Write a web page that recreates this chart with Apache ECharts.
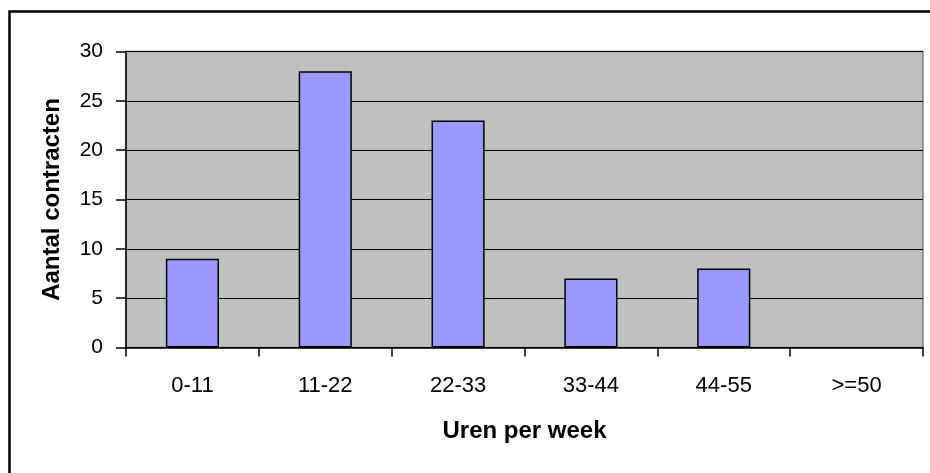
<!DOCTYPE html>
<html>
<head>
<meta charset="utf-8">
<script src="https://cdn.jsdelivr.net/npm/echarts@6/dist/echarts.min.js"></script>
<style>
html,body{margin:0;padding:0;background:#fff;}
#chart{width:930px;height:473px;}
</style>
</head>
<body>
<div id="chart"></div>
<script>
const categories = ['0-11', '11-22', '22-33', '33-44', '44-55', '>=50'];
const values = [9, 28, 23, 7, 8, 0];
const yTicks = [0, 5, 10, 15, 20, 25, 30];
const xTitle = 'Uren per week';
const yTitle = 'Aantal contracten';

const chart = echarts.init(document.getElementById('chart'));
const font = 'Liberation Sans, Arial, sans-serif';
chart.setOption({
  animation: false,
  backgroundColor: '#ffffff',
  graphic: [{
    type: 'rect',
    shape: { x: 9.5, y: 11.5, width: 940, height: 480 },
    style: { fill: 'none', stroke: '#000', lineWidth: 2.5 },
    silent: true
  }],
  grid: {
    left: 126, right: 7, top: 51.5, bottom: 125.5,
    show: true, backgroundColor: '#C0C0C0', borderColor: '#808080', borderWidth: 1.5
  },
  xAxis: {
    type: 'category',
    data: categories,
    name: xTitle,
    nameLocation: 'middle',
    nameGap: 72,
    nameTextStyle: { fontFamily: font, fontSize: 24, fontWeight: 'bold', color: '#000' },
    axisLine: { lineStyle: { color: '#000', width: 1.5 } },
    axisTick: { show: true, alignWithLabel: false, length: 9, lineStyle: { color: '#000', width: 1.5 } },
    axisLabel: { fontFamily: font, fontSize: 22, color: '#000', margin: 27 }
  },
  yAxis: {
    type: 'value',
    min: yTicks[0], max: yTicks[yTicks.length - 1], interval: 5,
    name: yTitle,
    nameLocation: 'middle',
    nameGap: 62,
    nameRotate: 90,
    nameTextStyle: { fontFamily: font, fontSize: 24, fontWeight: 'bold', color: '#000' },
    axisLine: { show: true, lineStyle: { color: '#000', width: 1.5 } },
    axisTick: { show: true, length: 10, lineStyle: { color: '#000', width: 1.5 } },
    axisLabel: { fontFamily: font, fontSize: 21, color: '#000', margin: 23 },
    splitLine: { show: true, lineStyle: { color: '#000', width: 1.2 } }
  },
  series: [{
    type: 'bar',
    data: values.map(v => v === 0 ? { value: v, itemStyle: { borderWidth: 0 } } : v),
    barWidth: '40%',
    itemStyle: { color: '#9999FF', borderColor: '#000', borderWidth: 1.5 }
  }]
});
</script>
</body>
</html>
